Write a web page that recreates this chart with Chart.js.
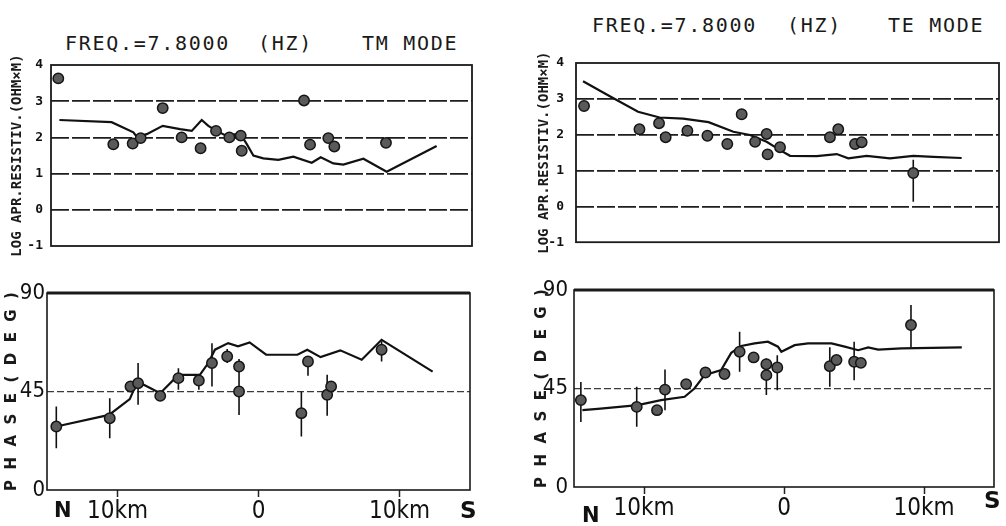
<!DOCTYPE html>
<html>
<head>
<meta charset="utf-8">
<script src="https://cdn.jsdelivr.net/npm/chart.js@4.4.1/dist/chart.umd.min.js"></script>
<style>
  html, body { margin: 0; padding: 0; background: #fff; }
  #wrap { position: relative; width: 1006px; height: 526px; overflow: hidden; background: #fff; }
  canvas { position: absolute; }
  .ttl { position: absolute; font-family: "DejaVu Sans Mono", monospace; font-size: 20px; letter-spacing: 1.7px; color: #1a1a1a; white-space: pre; line-height: 1; }
  .dir { position: absolute; font-family: "DejaVu Sans", sans-serif; font-weight: bold; color: #111; line-height: 1; }
</style>
</head>
<body>
<div id="wrap">
  <span class="ttl" style="left:65px;top:33px;">FREQ.=7.8000</span>
  <span class="ttl" style="left:258px;top:33px;">(HZ)</span>
  <span class="ttl" style="left:362px;top:33px;">TM MODE</span>

  <span class="ttl" style="left:592px;top:15px;">FREQ.=7.8000</span>
  <span class="ttl" style="left:787px;top:15px;">(HZ)</span>
  <span class="ttl" style="left:888px;top:15px;">TE MODE</span>

  <canvas id="c1" width="500" height="262" style="left:0px;top:0px;"></canvas>
  <canvas id="c2" width="476" height="262" style="left:530px;top:0px;"></canvas>
  <canvas id="c3" width="500" height="264" style="left:0px;top:262px;"></canvas>
  <canvas id="c4" width="476" height="264" style="left:530px;top:262px;"></canvas>

  <span class="dir" style="left:54px;top:500px;font-size:21px;">N</span>
  <span class="dir" style="left:460px;top:499px;font-size:23px;">S</span>
  <span class="dir" style="left:582px;top:505px;font-size:21px;">N</span>
  <span class="dir" style="left:984px;top:489px;font-size:23px;">S</span>
</div>
<script>
// ---- distance axis (km, N negative / S positive) ----
const xTickValues = [-10, 0, 10];
const xTickLabels = ["10km", "0", "10km"];
const rhoTicks = [-1, 0, 1, 2, 3, 4];
const phaseTicks = [0, 45, 90];

// ---- TM mode, log apparent resistivity ----
const tmRhoX = [-14.48, -10.56, -9.18, -8.61, -7.04, -5.69, -4.34, -3.24, -2.29, -1.48, -1.41, 3.03, 3.46, 4.76, 5.19, 8.87];
const tmRhoY = [3.63, 1.81, 1.83, 1.98, 2.81, 2.00, 1.70, 2.18, 2.00, 2.05, 1.63, 3.02, 1.80, 1.98, 1.75, 1.85];
const tmRhoCalcX = [-14.4, -10.68, -9.13, -8.85, -8.18, -7.04, -5.8, -4.97, -4.26, -3.79, -3.2, -2.49, -1.53, -1.06, -0.58, 0.13, 1.2, 2.27, 3.58, 4.22, 5.12, 5.83, 7.26, 8.92, 12.48];
const tmRhoCalcY = [2.48, 2.42, 2.14, 2.00, 2.09, 2.32, 2.23, 2.18, 2.48, 2.32, 2.18, 2.04, 2.11, 1.82, 1.50, 1.42, 1.38, 1.47, 1.30, 1.45, 1.28, 1.25, 1.41, 1.05, 1.76];

// ---- TE mode, log apparent resistivity ----
const teRhoX = [-14.43, -10.5, -9.11, -8.64, -7.1, -5.68, -4.27, -3.25, -2.3, -1.48, -1.41, -0.53, 3.01, 3.6, 4.79, 5.26, 8.92];
const teRhoY = [2.80, 2.15, 2.32, 1.93, 2.11, 1.97, 1.74, 2.57, 1.80, 2.02, 1.45, 1.65, 1.93, 2.15, 1.74, 1.79, 0.93];
const teRhoLo = [null, null, null, null, null, null, null, null, null, null, null, null, null, null, null, null, 0.13];
const teRhoHi = [null, null, null, null, null, null, null, null, null, null, null, null, null, null, null, null, 1.30];
const teRhoCalcX = [-14.5, -12.6, -10.6, -9.07, -7.4, -5.6, -3.84, -2.66, -1.48, -0.53, 0.18, 2.07, 3.49, 4.31, 5.61, 7.27, 8.92, 10.34, 12.35];
const teRhoCalcY = [3.49, 3.07, 2.64, 2.48, 2.45, 2.35, 2.08, 1.99, 1.80, 1.57, 1.41, 1.40, 1.46, 1.34, 1.41, 1.34, 1.41, 1.38, 1.35];

// ---- TM mode, phase ----
const tmPhX = [-14.34, -10.55, -9.08, -8.54, -6.97, -5.68, -4.23, -3.3, -2.22, -1.38, -1.38, 3.04, 3.51, 4.87, 5.15, 8.73];
const tmPhY = [29.0, 32.8, 47.3, 48.8, 43.0, 51.1, 50.0, 58.0, 61.0, 56.4, 45.0, 35.1, 58.7, 43.5, 47.3, 64.1];
const tmPhLo = [19.1, 23.6, null, 38.9, null, 45.8, 45.8, 47.3, 58.0, 45.0, 34.3, 24.4, 52.2, 33.9, null, 58.7];
const tmPhHi = [38.1, 41.9, null, 58.0, null, 55.6, 52.6, 67.0, 64.4, 59.8, 50.0, 45.0, 61.0, 52.6, null, 67.9];
const tmPhCalcX = [-14.34, -10.6, -9.13, -8.8, -8.45, -8.0, -6.97, -5.68, -4.16, -3.56, -3.09, -2.15, -1.45, -0.63, 0.54, 1.82, 2.76, 3.46, 4.4, 5.8, 7.32, 8.73, 12.35];
const tmPhCalcY = [29.0, 34.3, 41.5, 46.5, 49.1, 47.6, 44.2, 52.6, 52.6, 58.0, 64.1, 67.1, 65.6, 67.4, 61.8, 61.8, 61.8, 64.1, 60.7, 63.8, 59.5, 68.6, 54.1];

// ---- TE mode, phase ----
const tePhX = [-14.51, -10.52, -9.07, -8.5, -6.99, -5.61, -4.25, -3.17, -2.17, -1.26, -1.26, -0.48, 3.27, 3.75, 5.01, 5.49, 9.07];
const tePhY = [39.7, 36.6, 35.1, 44.5, 47.0, 52.3, 51.6, 61.8, 59.2, 56.1, 51.1, 54.6, 55.2, 58.0, 57.2, 56.7, 74.0];
const tePhLo = [29.7, 27.5, null, 35.1, null, null, null, 52.6, null, null, 42.0, 44.2, 45.8, null, 48.8, null, 63.8];
const tePhHi = [48.0, 45.8, null, 53.7, null, null, null, 70.9, null, null, 58.7, 60.2, 63.8, null, 66.4, null, 83.1];
const tePhCalcX = [-14.4, -13.1, -10.45, -8.78, -7.1, -6.4, -5.68, -4.49, -3.77, -3.05, -2.1, -1.15, -0.43, -0.19, 0.76, 1.72, 3.39, 4.34, 5.3, 6.01, 6.73, 8.4, 12.7];
const tePhCalcY = [35.1, 35.8, 37.4, 39.7, 41.2, 45.0, 51.1, 53.4, 61.3, 64.4, 65.6, 66.4, 64.1, 61.8, 64.8, 65.6, 65.6, 64.1, 62.5, 63.8, 62.8, 63.3, 63.8];

// ---------- helpers ----------
const pts = (xs, ys) => xs.map((x, i) => ({ x: x, y: ys[i] }));
function errPts(xs, lo, hi) {
  const out = [];
  xs.forEach((x, i) => {
    if (lo && lo[i] != null && hi[i] != null) {
      out.push({ x: x, y: lo[i] }, { x: x, y: hi[i] }, { x: x, y: null });
    }
  });
  return out;
}

const framePlugin = {
  id: 'frame',
  afterDraw(chart, args, opts) {
    const a = chart.chartArea, ctx = chart.ctx;
    ctx.save();
    ctx.strokeStyle = '#1a1a1a';
    ctx.lineWidth = opts.width || 1.6;
    ctx.strokeRect(a.left, a.top, a.right - a.left, a.bottom - a.top);
    if (opts.topWidth) {
      ctx.lineWidth = opts.topWidth;
      ctx.beginPath(); ctx.moveTo(a.left, a.top); ctx.lineTo(a.right, a.top); ctx.stroke();
    }
    ctx.restore();
  }
};

const narrow = "'Liberation Sans Narrow', 'DejaVu Sans Condensed', 'Liberation Sans', sans-serif";

function makeChart(id, cfg) {
  const isPhase = cfg.kind === 'phase';
  const datasets = [
    {
      type: 'line', data: pts(cfg.calcX, cfg.calcY), borderColor: '#111', borderWidth: 2.2,
      pointRadius: 0, tension: 0, fill: false, order: 3
    },
    {
      type: 'line', data: errPts(cfg.obsX, cfg.lo, cfg.hi), borderColor: '#111', borderWidth: 1.6,
      pointRadius: 0, spanGaps: false, fill: false, order: 2
    },
    {
      type: 'scatter', data: pts(cfg.obsX, cfg.obsY), backgroundColor: '#5a5a5a', borderColor: '#151515',
      borderWidth: 1.5, pointRadius: 5.2, pointStyle: 'circle', order: 1
    }
  ];
  return new Chart(document.getElementById(id), {
    type: 'scatter',
    data: { datasets: datasets },
    options: {
      responsive: false, animation: false, devicePixelRatio: 1,
      layout: { padding: cfg.padding },
      plugins: {
        legend: { display: false }, tooltip: { enabled: false },
        frame: { width: isPhase ? 1.6 : 1.8, topWidth: isPhase ? 3 : 0 }
      },
      scales: {
        x: {
          type: 'linear', min: -15, max: 15,
          display: cfg.showX,
          afterBuildTicks: (s) => { s.ticks = xTickValues.map(v => ({ value: v })); },
          afterFit: (s) => { s.height = cfg.xHeight || 0; },
          ticks: {
            callback: (v) => xTickLabels[xTickValues.indexOf(v)],
            font: { family: narrow, size: 24 }, color: '#111', padding: 0, maxRotation: 0, autoSkip: false
          },
          grid: { drawOnChartArea: false, drawTicks: true, tickLength: 7, tickColor: '#222', tickWidth: 1.5 },
          border: { display: false }
        },
        y: {
          type: 'linear',
          min: isPhase ? 0 : -1, max: isPhase ? 90 : 4,
          afterBuildTicks: (s) => { s.ticks = (isPhase ? phaseTicks : rhoTicks).map(v => ({ value: v })); },
          afterFit: (s) => { s.width = cfg.yWidth; },
          ticks: isPhase
            ? { font: { family: narrow, size: 22 }, color: '#111', padding: cfg.tickPad }
            : { font: { family: "'DejaVu Sans Mono', monospace", size: 13, weight: 'bold' }, color: '#111', padding: cfg.tickPad },
          grid: {
            drawTicks: false,
            color: (c) => {
              const v = c.tick && c.tick.value;
              if (isPhase) return v === 45 ? '#3a3a3a' : 'rgba(0,0,0,0)';
              return (v >= 0 && v <= 3) ? '#1e1e1e' : 'rgba(0,0,0,0)';
            },
            lineWidth: isPhase ? 1.3 : 1.7
          },
          border: { display: false, dash: isPhase ? [7, 3] : [18, 3] },
          title: {
            display: true,
            text: isPhase ? 'P\u2007H\u2007A\u2007S\u2007E\u2007(\u2007D\u2007E\u2007G\u2007)' : 'LOG APR.RESISTIV.(OHM\u00d7M)',
            font: isPhase
              ? { family: "'DejaVu Sans', sans-serif", size: 15, weight: 'bold' }
              : { family: "'DejaVu Sans Mono', monospace", size: 14, weight: 'bold' },
            color: '#1a1a1a',
            padding: { top: cfg.titlePad, bottom: 0 }
          }
        }
      }
    },
    plugins: [framePlugin]
  });
}

makeChart('c1', {
  kind: 'rho', obsX: tmRhoX, obsY: tmRhoY, lo: null, hi: null, calcX: tmRhoCalcX, calcY: tmRhoCalcY,
  padding: { left: 0, right: 28, top: 65, bottom: 16 }, yWidth: 51, tickPad: 8, titlePad: 9, showX: false
});
makeChart('c2', {
  kind: 'rho', obsX: teRhoX, obsY: teRhoY, lo: teRhoLo, hi: teRhoHi, calcX: teRhoCalcX, calcY: teRhoCalcY,
  padding: { left: 0, right: 7, top: 63, bottom: 19 }, yWidth: 46, tickPad: 12, titlePad: 6, showX: false
});
makeChart('c3', {
  kind: 'phase', obsX: tmPhX, obsY: tmPhY, lo: tmPhLo, hi: tmPhHi, calcX: tmPhCalcX, calcY: tmPhCalcY,
  padding: { left: 0, right: 30, top: 31, bottom: 0 }, yWidth: 47, tickPad: 2, titlePad: 3, showX: true, xHeight: 36
});
makeChart('c4', {
  kind: 'phase', obsX: tePhX, obsY: tePhY, lo: tePhLo, hi: tePhHi, calcX: tePhCalcX, calcY: tePhCalcY,
  padding: { left: 0, right: 12, top: 28, bottom: 3 }, yWidth: 44, tickPad: 6, titlePad: 3, showX: true, xHeight: 36
});
</script>
</body>
</html>
